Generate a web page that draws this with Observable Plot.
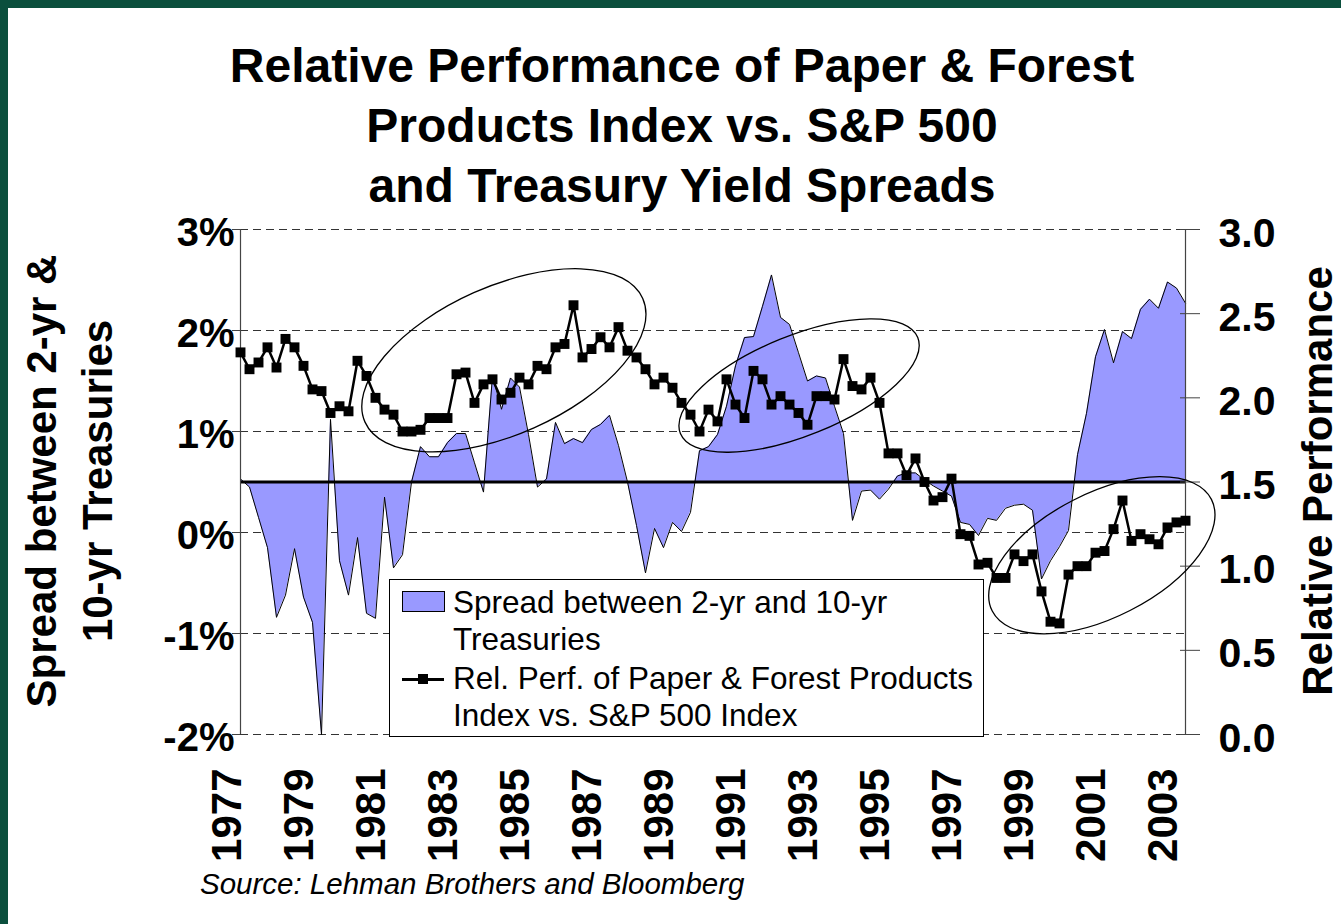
<!DOCTYPE html>
<html>
<head>
<meta charset="utf-8">
<script src="https://cdn.jsdelivr.net/npm/d3@7"></script>
<script src="https://cdn.jsdelivr.net/npm/@observablehq/plot@0.6"></script>
<style>
  html, body { margin: 0; padding: 0; }
  body { width: 1341px; height: 924px; background: #0b4f3d; position: relative; overflow: hidden;
         font-family: "Liberation Sans", Arial, Helvetica, sans-serif; color: #000; }
  #panel { position: absolute; left: 8px; top: 8px; right: 0; bottom: 0; background: #fff; }
  #title { position: absolute; left: 182px; width: 1000px; top: 36px; text-align: center;
           font-size: 48px; font-weight: bold; line-height: 60px; }
  #chart { position: absolute; left: 0; top: 200px; }
  .ylab { position: absolute; text-align: center; font-weight: bold; transform: rotate(-90deg);
          transform-origin: 50% 50%; white-space: nowrap; }
  #ylabL { left: -180px; top: 425px; width: 500px; height: 112px; font-size: 42px; line-height: 56px; }
  #ylabR { left: 1068px; top: 456px; width: 500px; height: 50px; font-size: 42px; line-height: 50px; }
  #legend { position: absolute; left: 389px; top: 579px; width: 593px; height: 156px;
            border: 1px solid #000; background: #fff; }
  #legend .sw { position: absolute; left: 12px; top: 11px; width: 41px; height: 19px;
                background: #9999ff; border: 1px solid #000; }
  #legend .ln { position: absolute; left: 12px; top: 98px; width: 42px; height: 2.5px; background: #000; }
  #legend .mk { position: absolute; left: 28px; top: 94px; width: 10px; height: 10px; background: #000; }
  #legend .tx { position: absolute; left: 63px; font-size: 31.5px; line-height: 37px; white-space: nowrap; }
  #source { position: absolute; left: 200px; top: 868px; font-size: 29.5px; font-style: italic; line-height: 32px; }
</style>
</head>
<body>
<div id="panel"></div>
<div id="title">Relative Performance of Paper &amp; Forest<br>Products Index vs. S&amp;P 500<br>and Treasury Yield Spreads</div>
<div id="chart"></div>
<div id="ylabL" class="ylab">Spread between 2-yr &amp;<br>10-yr Treasuries</div>
<div id="ylabR" class="ylab">Relative Performance</div>
<div id="legend">
  <div class="sw"></div>
  <div class="tx" style="top:4px">Spread between 2-yr and 10-yr<br>Treasuries</div>
  <div class="ln"></div><div class="mk"></div>
  <div class="tx" style="top:80px">Rel. Perf. of Paper &amp; Forest Products<br>Index vs. S&amp;P 500 Index</div>
</div>
<div id="source">Source: Lehman Brothers and Bloomberg</div>

<script>
// ---------------- DATA (quarterly, 1977Q1 .. 2003Q2) ----------------
const startYear = 1977;

// Spread between 2-yr and 10-yr Treasuries (%)
const spread = [
  0.53, 0.45, 0.15, -0.15, -0.84, -0.62, -0.16, -0.64, -0.89, -2.00,
  1.12, -0.28, -0.62, -0.05, -0.80, -0.85, 0.35, -0.35, -0.22, 0.50,
  0.85, 0.75, 0.75, 0.89, 0.98, 0.98, 0.69, 0.40, 1.55, 1.22,
  1.53, 1.44, 0.97, 0.45, 0.53, 1.09, 0.88, 0.93, 0.89, 1.02,
  1.07, 1.16, 0.86, 0.50, 0.07, -0.40, 0.04, -0.15, 0.10, 0.01,
  0.20, 0.81, 0.85, 0.97, 1.25, 1.65, 1.93, 1.94, 2.24, 2.55,
  2.13, 2.06, 1.78, 1.50, 1.55, 1.53, 1.25, 0.98, 0.12, 0.41,
  0.42, 0.33, 0.43, 0.56, 0.59, 0.59, 0.52, 0.46, 0.41, 0.36,
  0.10, 0.08, -0.03, 0.14, 0.12, 0.24, 0.27, 0.28, 0.22, -0.46,
  -0.28, -0.14, 0.02, 0.77, 1.18, 1.74, 2.01, 1.68, 1.99, 1.92,
  2.21, 2.31, 2.22, 2.48, 2.42, 2.27
];

// Relative performance of Paper & Forest Products index vs. S&P 500 (right axis)
const relPerf = [
  2.27, 2.17, 2.21, 2.30, 2.18, 2.35, 2.30, 2.19, 2.05, 2.04,
  1.91, 1.95, 1.92, 2.22, 2.13, 2.00, 1.93, 1.90, 1.80, 1.80,
  1.81, 1.88, 1.88, 1.88, 2.14, 2.15, 1.97, 2.08, 2.11, 1.99,
  2.03, 2.12, 2.08, 2.19, 2.17, 2.30, 2.32, 2.55, 2.24, 2.29,
  2.36, 2.30, 2.42, 2.28, 2.24, 2.17, 2.08, 2.12, 2.06, 1.97,
  1.90, 1.80, 1.93, 1.86, 2.11, 1.96, 1.88, 2.16, 2.11, 1.96,
  2.01, 1.96, 1.91, 1.84, 2.01, 2.01, 1.99, 2.23, 2.07, 2.05,
  2.12, 1.97, 1.67, 1.67, 1.54, 1.64, 1.50, 1.39, 1.41, 1.52,
  1.19, 1.18, 1.01, 1.02, 0.93, 0.93, 1.07, 1.03, 1.07, 0.85,
  0.67, 0.66, 0.95, 1.00, 1.00, 1.08, 1.09, 1.22, 1.39, 1.15,
  1.19, 1.16, 1.13, 1.23, 1.26, 1.27
];

const yearTicks  = [1977, 1979, 1981, 1983, 1985, 1987, 1989, 1991, 1993, 1995, 1997, 1999, 2001, 2003];
const leftTicks  = [3, 2, 1, 0, -1, -2];            // % spread
const rightTicks = [0, 0.5, 1.0, 1.5, 2.0, 2.5, 3.0]; // relative performance
const leftDomain  = [-2, 3];
const rightDomain = [0, 3];
const baseline = 0.5; // spread level where the category axis crosses

// Annotation ellipses: centre in data units (year, % spread), radii in px, tilt in degrees
const ellipses = [
  { year: 1984.33, pct: 1.70,  rx: 152, ry: 74, tilt: 24 },
  { year: 1992.53, pct: 1.45,  rx: 128, ry: 50, tilt: 22 },
  { year: 2000.94, pct: -0.23, rx: 123, ry: 62, tilt: 27 }
];

// ---------------- BUILD ----------------
const toLeft = r => leftDomain[0] + (r - rightDomain[0]) * (leftDomain[1] - leftDomain[0]) / (rightDomain[1] - rightDomain[0]);
const rows = spread.map((s, i) => ({ date: startYear + i / 4, spread: s, rel: relPerf[i] }));
const xDomain = [rows[0].date, rows[rows.length - 1].date];

const bold = "bold";
const plot = Plot.plot({
  width: 1341,
  height: 724,
  marginTop: 29,
  marginBottom: 190,
  marginLeft: 240,
  marginRight: 156,
  style: { fontFamily: '"Liberation Sans", Arial, sans-serif', background: "transparent", color: "#000", overflow: "visible" },
  x: { domain: xDomain, axis: null },
  y: { domain: leftDomain, axis: null },
  marks: [
    // dashed gridlines
    Plot.ruleY(leftTicks, { stroke: "#333", strokeWidth: 1, strokeDasharray: "8,5" }),
    // spread area (filled from the baseline)
    Plot.areaY(rows, { x: "date", y1: () => baseline, y2: "spread", fill: "#9999ff" }),
    Plot.line(rows, { x: "date", y: "spread", stroke: "#000", strokeWidth: 1 }),
    // bold baseline
    Plot.ruleY([baseline], { stroke: "#000", strokeWidth: 3 }),
    // axis lines
    Plot.ruleX(xDomain, { stroke: "#444", strokeWidth: 1.2 }),
    // left ticks
    Plot.ruleY(leftTicks, { x1: () => xDomain[0], x2: () => xDomain[0], insetLeft: -8, stroke: "#444" }),
    // right ticks
    Plot.ruleY(rightTicks, { y: toLeft, x1: () => xDomain[1], x2: () => xDomain[1], insetLeft: -5, insetRight: -15, stroke: "#444" }),
    // relative performance line + square markers
    Plot.line(rows, { x: "date", y: d => toLeft(d.rel), stroke: "#000", strokeWidth: 2.5 }),
    Plot.dot(rows, { x: "date", y: d => toLeft(d.rel), symbol: "square", r: 5.6, fill: "#000", stroke: "none" }),
    // left tick labels
    Plot.text(leftTicks, { y: d => d, frameAnchor: "left", textAnchor: "end", dx: -6, dy: 4,
                           text: d => `${d}%`, fontSize: 40, fontWeight: bold, fill: "#000" }),
    // right tick labels
    Plot.text(rightTicks, { y: toLeft, frameAnchor: "right", textAnchor: "start", dx: 33, dy: 4,
                            text: d => d.toFixed(1), fontSize: 41, fontWeight: bold, fill: "#000" }),
    // year labels (rotated)
    Plot.text(yearTicks, { x: d => d, frameAnchor: "bottom", rotate: -90, textAnchor: "end", dy: 34,
                           text: d => String(d), fontSize: 42, fontWeight: bold, fill: "#000" })
  ]
});
document.getElementById("chart").appendChild(plot);

// annotation ellipses drawn through the plot's scales
const sx = plot.scale("x"), sy = plot.scale("y");
const X = d3.scaleLinear(sx.domain, sx.range || [240, 1341 - 156]);
const Y = d3.scaleLinear(sy.domain, sy.range || [724 - 190, 29]);
d3.select(plot).append("g")
  .selectAll("ellipse").data(ellipses).join("ellipse")
  .attr("transform", e => `translate(${X(e.year)},${Y(e.pct)}) rotate(${-e.tilt})`)
  .attr("rx", e => e.rx).attr("ry", e => e.ry)
  .attr("fill", "none").attr("stroke", "#000").attr("stroke-width", 1.3);
</script>
</body>
</html>
